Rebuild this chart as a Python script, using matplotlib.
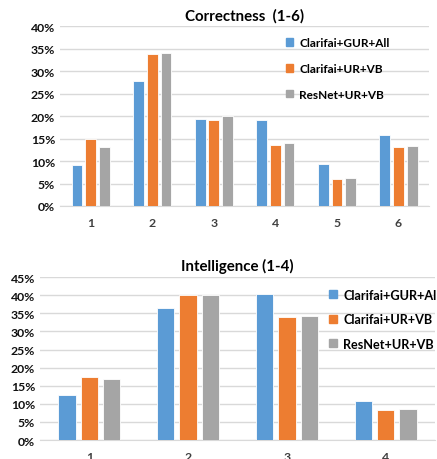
import matplotlib.pyplot as plt
from matplotlib.patches import Patch
from matplotlib.ticker import PercentFormatter
import numpy as np

plt.rcParams['font.family'] = ['Lato', 'DejaVu Sans']
plt.rcParams['font.weight'] = 'bold'

series = ['Clarifai+GUR+All', 'Clarifai+UR+VB', 'ResNet+UR+VB']
colors = ['#5B9BD5', '#ED7D31', '#A5A5A5']

corr_cats = ['1', '2', '3', '4', '5', '6']
corr_gur = [9.1, 27.9, 19.4, 19.1, 9.3, 15.7]
corr_ur = [14.8, 33.9, 19.1, 13.6, 6.0, 13.1]
corr_resnet = [13.1, 34.1, 20.0, 13.9, 6.2, 13.3]

intel_cats = ['1', '2', '3', '4']
intel_gur = [12.5, 36.4, 40.3, 10.7]
intel_ur = [17.5, 40.0, 33.9, 8.2]
intel_resnet = [16.8, 40.0, 34.3, 8.5]

fig = plt.figure(figsize=(4.37, 4.6), dpi=100)
ax1 = fig.add_axes([0.1373, 0.55, 0.845, 0.391])
ax2 = fig.add_axes([0.0915, 0.0413, 0.904, 0.354])


def draw(ax, cats, vals, ymax, title, width, step, leg_anchor, spacing, leg_size):
    x = np.arange(len(cats))
    for i, v in enumerate(vals):
        ax.bar(x + (i - 1) * step, v, width, color=colors[i],
               edgecolor='white', linewidth=0.6, zorder=3)
    ax.set_xlim(-0.5, len(cats) - 0.5)
    ax.set_ylim(0, ymax)
    ax.set_yticks(np.arange(0, ymax + 0.1, 5))
    ax.yaxis.set_major_formatter(PercentFormatter(decimals=0))
    ax.set_xticks(x)
    ax.set_xticklabels(cats)
    ax.grid(axis='y', color='#D9D9D9', linewidth=1, zorder=0)
    for s in ['top', 'right', 'left']:
        ax.spines[s].set_visible(False)
    ax.spines['bottom'].set_color('#D9D9D9')
    ax.tick_params(length=0, labelsize=8.8, colors='#111111')
    ax.tick_params(axis='x', pad=8, colors='#404040')
    for lbl in ax.get_xticklabels() + ax.get_yticklabels():
        lbl.set_fontweight('bold')
    ax.set_title(title, fontsize=10.8, fontweight='bold', pad=5)
    handles = [Patch(color=c, label=s) for c, s in zip(colors, series)]
    ax.legend(handles=handles, loc='upper left', bbox_to_anchor=leg_anchor,
              frameon=False, handlelength=0.6, handleheight=0.6,
              handletextpad=0.5, labelspacing=spacing, borderaxespad=0,
              prop={'weight': 'bold', 'size': leg_size})


draw(ax1, corr_cats, [corr_gur, corr_ur, corr_resnet], 40, 'Correctness  (1-6)',
     0.175, 0.222, (0.6, 0.965), 1.25, 8.5)
draw(ax2, intel_cats, [intel_gur, intel_ur, intel_resnet], 45, 'Intelligence (1-4)',
     0.175, 0.226, (0.72, 0.96), 0.98, 9.1)

fig.savefig('out.png', dpi=100)
